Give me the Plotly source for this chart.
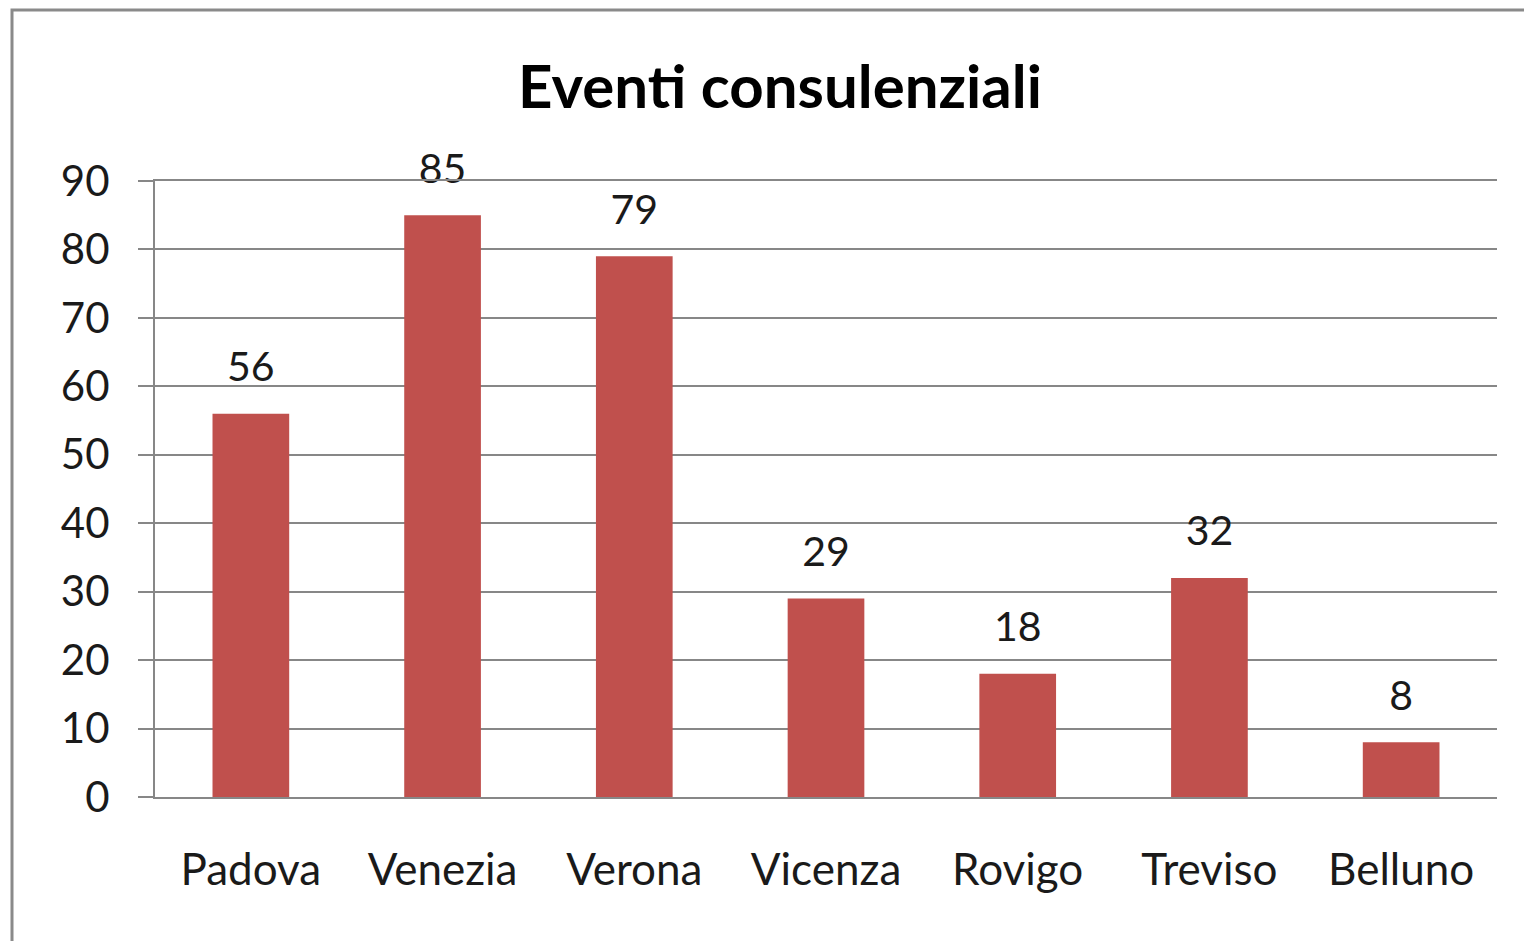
import plotly.graph_objects as go

# Dati
province = ["Padova", "Venezia", "Verona", "Vicenza", "Rovigo", "Treviso", "Belluno"]
eventi = [56, 85, 79, 29, 18, 32, 8]
y_ticks = [0, 10, 20, 30, 40, 50, 60, 70, 80, 90]

BAR_COLOR = "#C0504D"
GRID_COLOR = "#878787"
FONT = "Lato, Open Sans, sans-serif"

# la pagina ha un margine di 8px: figura leggermente più piccola
W, H = 1524, 933

fig = go.Figure()

fig.add_trace(go.Bar(
    x=province,
    y=eventi,
    marker=dict(color=BAR_COLOR, line=dict(width=0)),
    hoverinfo="x+y",
))

# Etichette dati sopra le barre
fig.add_trace(go.Scatter(
    x=province,
    y=eventi,
    mode="markers+text",
    text=[str(v) for v in eventi],
    textposition="top center",
    marker=dict(size=34, color="rgba(0,0,0,0)"),
    textfont=dict(family=FONT, size=41, color="#1a1a1a"),
    cliponaxis=False,
    hoverinfo="skip",
))

fig.update_layout(
    width=W,
    height=H,
    margin=dict(l=147, r=35, t=173, b=144),
    paper_bgcolor="white",
    plot_bgcolor="white",
    showlegend=False,
    bargap=0.6,
    font=dict(family=FONT, color="#1a1a1a"),
    title=dict(
        text="<b>Eventi consulenziali</b>",
        x=(780 - 8) / W,
        xanchor="center",
        xref="container",
        y=1 - (87 - 8) / H,
        yanchor="middle",
        yref="container",
        font=dict(family=FONT, size=60, color="#000000"),
    ),
    shapes=[
        dict(
            type="rect",
            xref="paper", yref="paper",
            x0=(12 - 155) / 1342, x1=1.2,
            y0=-0.5, y1=(797 - 10) / 616,
            line=dict(color="#8a8a8a", width=3),
            fillcolor="rgba(0,0,0,0)",
            layer="below",
        )
    ],
)

fig.update_xaxes(
    showline=True,
    mirror=True,
    linecolor=GRID_COLOR,
    linewidth=2,
    ticks="",
    showgrid=False,
    tickfont=dict(family=FONT, size=44, color="#1a1a1a"),
    ticklabelstandoff=33,
)

fig.update_yaxes(
    range=[0, 90],
    tickvals=y_ticks,
    showline=True,
    linecolor=GRID_COLOR,
    linewidth=2,
    showgrid=True,
    gridcolor=GRID_COLOR,
    gridwidth=2,
    ticks="outside",
    ticklen=15,
    tickwidth=2,
    tickcolor=GRID_COLOR,
    ticklabelstandoff=20,
    zeroline=False,
    tickfont=dict(family=FONT, size=42, color="#1a1a1a"),
)

fig.write_html("out.html")
